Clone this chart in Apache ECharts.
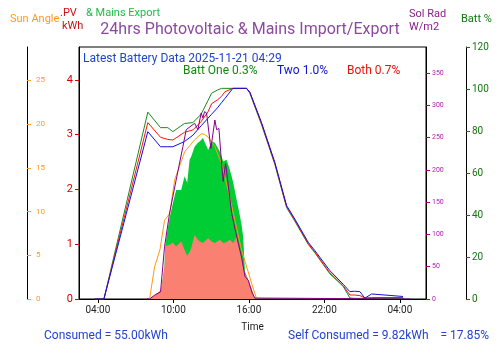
<!DOCTYPE html>
<html>
<head>
<meta charset="utf-8">
<script src="https://cdn.jsdelivr.net/npm/echarts@6/dist/echarts.min.js"></script>
<style>
  html, body { margin: 0; padding: 0; background: #fff; }
  #main { width: 500px; height: 353px; }
</style>
</head>
<body>
<div id="main"></div>
<script>
// time in hours from midnight of the first day (28 = 04:00 next day)
var xTicks = [4, 10, 16, 22, 28];

// battery state of charge, %
var battTime = [3.76, 4.48, 7.97, 8.98, 9.56, 9.96, 10.89, 11.55, 12.21, 12.74, 13.04, 13.5, 13.83, 14.1, 14.73, 15.82, 16.08, 17.01, 18.07, 19.0, 19.66, 20.72, 21.25, 22.44, 23.5, 24.03, 24.4, 24.83, 25.22, 25.76, 28.25];
var battOne  = [0, 0, 89, 81.6, 81.6, 79.7, 83.6, 84, 88, 94.4, 98, 99.5, 100.3, 100.3, 100.3, 100.3, 98, 83, 64, 43.5, 37, 26, 22, 12, 6, 0.5, 0.3, 0.3, 0.3, 0.3, 0.3];
var battBoth = [0, 0, 84, 77, 76, 75.7, 79.4, 80.5, 84.5, 89, 93, 94.8, 96.5, 98.7, 100.3, 100.3, 98.3, 83.5, 64.5, 44, 37.5, 26.3, 22.3, 12.5, 6.3, 1.9, 1.9, 1.6, 0.5, 0.7, 0.7];
var battTwo  = [0, 0, 79.7, 72.5, 72.5, 72.5, 75, 78, 82.5, 86, 88, 91, 93.5, 95.5, 100.3, 100.3, 98.5, 84, 65, 44.5, 38, 27, 23, 13.5, 7, 3.5, 3.7, 3.5, 0.4, 2.4, 1.2];

// PV self used and mains export, kWh (export sits on top of PV)
var solarTime = [8.11, 8.51, 9.03, 9.30, 9.35, 9.56, 9.72, 9.96, 10.22, 10.36, 10.62, 10.89, 11.10, 11.29, 11.42, 11.55, 11.69, 11.95, 12.11, 12.35, 12.51, 12.64, 12.77, 13.04, 13.30, 13.44, 13.70, 13.96, 14.10, 14.23, 14.49, 14.63, 14.76, 15.03, 15.29, 15.42, 15.55, 15.69, 15.95, 16.35, 16.48];
var pvKwh     = [0, 0.07, 0.16, 0.6, 0.96, 0.98, 0.99, 1.03, 0.96, 0.93, 1.05, 0.9, 0.79, 0.86, 0.93, 1.05, 1.17, 1.08, 1.05, 1.02, 1.06, 1.08, 1.11, 1.05, 1.02, 1.05, 1.08, 1.02, 0.99, 1.04, 1.08, 1.05, 1.02, 1.14, 0.85, 0.71, 0.6, 0.47, 0.35, 0.1, 0];
var exportKwh = [0, 0, 0, 0, 0, 0.32, 0.51, 0.72, 1.03, 1.07, 0.94, 1.34, 1.33, 1.68, 1.67, 1.64, 1.61, 1.77, 1.83, 1.92, 1.79, 1.80, 1.61, 1.83, 1.83, 1.77, 1.61, 1.49, 1.51, 1.50, 1.28, 1.19, 1.10, 0.67, 0.67, 0.64, 0.54, 0.03, 0, 0, 0];

// solar radiation, W/m2
var radTime = [7.9, 8.11, 8.51, 8.98, 9.30, 9.70, 10.22, 10.76, 11.02, 11.69, 11.95, 12.21, 12.35, 12.48, 12.64, 12.98, 13.30, 13.44, 13.62, 13.83, 13.96, 14.15, 14.63, 15.03, 15.42, 15.69, 15.95, 16.27, 16.48, 16.62, 28.8];
var solRad  = [0, 0, 6, 11, 81, 133, 184, 236, 262, 272, 262, 288, 280, 290, 288, 233, 277, 262, 264, 210, 182, 210, 133, 97, 65, 35, 29, 9, 1.5, 0, 0];

// sun elevation, degrees
var sunTime  = [8.11, 8.51, 8.93, 9.30, 9.72, 10.10, 10.89, 11.69, 12.24, 12.48, 12.77, 13.30, 13.83, 14.36, 14.89, 15.42, 15.95, 16.22, 16.62];
var sunAngle = [0, 3.7, 5.6, 9.0, 9.8, 13.6, 16.8, 18.2, 18.9, 18.8, 18.5, 17.4, 15.5, 12.4, 9.0, 5.6, 3.1, 1.8, 0];

function pairs(t, v) {
  return t.map(function (x, i) { return [x, v[i]]; });
}
function hhmm(v) {
  var h = Math.round(v) % 24;
  return (h < 10 ? '0' : '') + h + ':00';
}
// top of the export band = pv + export
var pvTotal = pvKwh.map(function (v, i) { return +(v + exportKwh[i]).toFixed(2); });

var font = 'Roboto';
var chart = echarts.init(document.getElementById('main'));

var option = {
  animation: false,
  textStyle: { fontFamily: font },
  grid: { left: 79, right: 74, top: 47, bottom: 54, show: true, borderColor: '#000', borderWidth: 1 },
  xAxis: {
    type: 'value', min: 2.5, max: 30.08,
    name: 'Time', nameLocation: 'middle', nameGap: 23,
    nameTextStyle: { color: '#222', fontSize: 10, fontFamily: font },
    axisLine: { lineStyle: { color: '#000' } },
    axisTick: { customValues: xTicks, length: 4, lineStyle: { color: '#000' } },
    axisLabel: { customValues: xTicks, formatter: hhmm, color: '#222', fontSize: 10, margin: 6 },
    splitLine: { show: false }
  },
  yAxis: [
    { // PV kWh
      type: 'value', min: 0, max: 4.6, position: 'left',
      axisLine: { show: true, lineStyle: { color: '#000' } },
      axisTick: { customValues: [0, 1, 2, 3, 4], length: 4, lineStyle: { color: '#cc0000' } },
      axisLabel: { customValues: [0, 1, 2, 3, 4], color: '#cc0000', fontSize: 11, margin: 6 },
      splitLine: { show: false }
    },
    { // sun angle
      type: 'value', min: 0, max: 28.8, position: 'left', offset: 52,
      axisLine: { show: true, lineStyle: { color: '#000' } },
      axisTick: { inside: true, customValues: [0, 5, 10, 15, 20, 25], length: 4, lineStyle: { color: '#ff9922' } },
      axisLabel: { inside: true, customValues: [0, 5, 10, 15, 20, 25], color: '#ff9922', fontSize: 8, margin: 9 },
      splitLine: { show: false }
    },
    { // sol rad
      type: 'value', min: 0, max: 390, position: 'right',
      axisLine: { show: true, lineStyle: { color: '#000' } },
      axisTick: { customValues: [0, 50, 100, 150, 200, 250, 300, 350], length: 4, lineStyle: { color: '#990099' } },
      axisLabel: { customValues: [0, 50, 100, 150, 200, 250, 300, 350], color: '#aa22aa', fontSize: 7, margin: 6 },
      splitLine: { show: false }
    },
    { // batt %
      type: 'value', min: 0, max: 120, position: 'right', offset: 40,
      axisLine: { show: true, lineStyle: { color: '#000' } },
      axisTick: { customValues: [0, 20, 40, 60, 80, 100, 120], length: 4, lineStyle: { color: '#117711' } },
      axisLabel: { customValues: [0, 20, 40, 60, 80, 100, 120], color: '#117711', fontSize: 10, margin: 6 },
      splitLine: { show: false }
    }
  ],
  series: [
    {
      name: 'Export', type: 'line', yAxisIndex: 0, symbol: 'none', z: 1,
      lineStyle: { width: 0 }, areaStyle: { color: '#00cc33', opacity: 1 },
      data: pairs(solarTime, pvTotal)
    },
    {
      name: 'PV', type: 'line', yAxisIndex: 0, symbol: 'none', z: 1,
      lineStyle: { width: 0 }, areaStyle: { color: '#fa8072', opacity: 1 },
      data: pairs(solarTime, pvKwh)
    },
    {
      name: 'Batt One', type: 'line', yAxisIndex: 3, symbol: 'none', z: 3,
      lineStyle: { color: '#1a8a1a', width: 1 }, data: pairs(battTime, battOne)
    },
    {
      name: 'Both', type: 'line', yAxisIndex: 3, symbol: 'none', z: 3,
      lineStyle: { color: '#ff1111', width: 1 }, data: pairs(battTime, battBoth)
    },
    {
      name: 'Two', type: 'line', yAxisIndex: 3, symbol: 'none', z: 3,
      lineStyle: { color: '#1111dd', width: 1 }, data: pairs(battTime, battTwo)
    },
    {
      name: 'Sun Angle', type: 'line', yAxisIndex: 1, symbol: 'none', z: 3,
      lineStyle: { color: '#ff9911', width: 1 }, data: pairs(sunTime, sunAngle)
    },
    {
      name: 'Sol Rad', type: 'line', yAxisIndex: 2, symbol: 'none', z: 3,
      lineStyle: { color: '#880088', width: 1 }, data: pairs(radTime, solRad)
    }
  ],
  graphic: [
    { type: 'text', left: 'center', top: 22, style: { text: '24hrs Photovoltaic & Mains Import/Export', fill: '#8a4a9e', font: '16px Roboto' } },
    { type: 'text', left: 10, top: 14, style: { text: 'Sun Angle', fill: '#ff9922', font: '11px Roboto' } },
    { type: 'text', left: 60, top: 8, style: { text: '.PV', fill: '#cc1111', font: '11px Roboto' } },
    { type: 'text', left: 62, top: 21, style: { text: 'kWh', fill: '#cc1111', font: '11px Roboto' } },
    { type: 'text', left: 86, top: 8, style: { text: '& Mains Export', fill: '#22bb44', font: '11px Roboto' } },
    { type: 'text', left: 409, top: 9, style: { text: 'Sol Rad', fill: '#882288', font: '11px Roboto' } },
    { type: 'text', left: 409, top: 22, style: { text: 'W/m2', fill: '#882288', font: '11px Roboto' } },
    { type: 'text', left: 461, top: 14, style: { text: 'Batt %', fill: '#117711', font: '11px Roboto' } },
    { type: 'text', left: 83, top: 53, style: { text: 'Latest Battery Data 2025-11-21 04:29', fill: '#2244cc', font: '12px Roboto' } },
    { type: 'text', left: 183, top: 65, style: { text: 'Batt One 0.3%', fill: '#118811', font: '12px Roboto' } },
    { type: 'text', left: 277, top: 65, style: { text: 'Two 1.0%', fill: '#1111dd', font: '12px Roboto' } },
    { type: 'text', left: 347, top: 65, style: { text: 'Both 0.7%', fill: '#ee1111', font: '12px Roboto' } },
    { type: 'text', left: 44, top: 330, style: { text: 'Consumed = 55.00kWh', fill: '#2244cc', font: '12px Roboto' } },
    { type: 'text', left: 288, top: 330, style: { text: 'Self Consumed = 9.82kWh    = 17.85%', fill: '#2244cc', font: '12px Roboto' } }
  ]
};

chart.setOption(option);
</script>
</body>
</html>
